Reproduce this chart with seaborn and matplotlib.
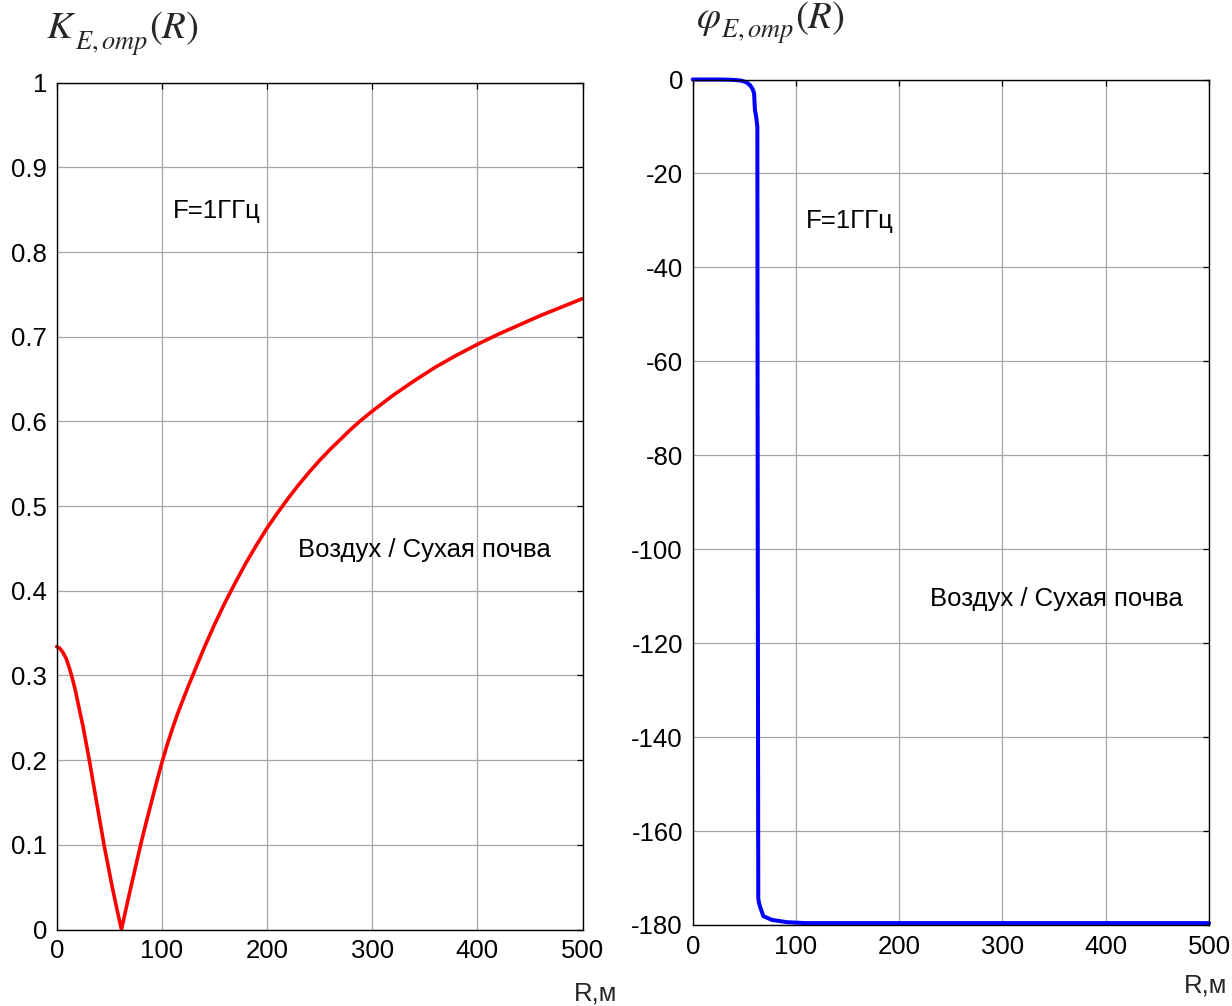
import matplotlib
matplotlib.use("Agg")
import matplotlib.pyplot as plt
import seaborn as sns
import pandas as pd

# ---- data ----
r_k = [0, 3, 6, 9, 12, 15, 18, 21, 25, 31, 38, 45, 53, 58, 61.6, 66, 70, 75, 80, 85,
       90, 95, 100, 105, 110, 115, 120, 125, 130, 140, 150, 160, 170, 180, 190, 200,
       210, 220, 230, 240, 250, 260, 270, 280, 290, 300, 320, 340, 360, 380, 400,
       420, 440, 460, 480, 500]
k_vals = [0.334, 0.332, 0.327, 0.320, 0.309, 0.296, 0.281, 0.263, 0.240, 0.200,
          0.150, 0.100, 0.049, 0.020, 0.000, 0.025, 0.047, 0.074, 0.101, 0.126,
          0.150, 0.174, 0.197, 0.218, 0.237, 0.255, 0.271, 0.287, 0.302, 0.332,
          0.360, 0.386, 0.410, 0.433, 0.454, 0.474, 0.492, 0.509, 0.525, 0.540,
          0.554, 0.567, 0.579, 0.591, 0.602, 0.612, 0.631, 0.648, 0.664, 0.678,
          0.691, 0.703, 0.714, 0.725, 0.735, 0.745]

r_phi = [0, 25, 36, 42, 47.4, 52, 55.5, 58, 59.4, 60.3, 61.5, 62.6, 63.0, 63.5, 64.2,
         65.2, 68.4, 76.5, 91, 110, 200, 300, 400, 500]
phi_vals = [0, 0, -0.05, -0.12, -0.26, -0.6, -1.2, -2.0, -2.9, -6.5, -8.0, -10, -100,
            -174.3, -175.3, -176.1, -178.1, -178.9, -179.4, -179.6, -179.6, -179.6,
            -179.6, -179.6]

x_ticks = [0, 100, 200, 300, 400, 500]
k_ticks = [0, 0.1, 0.2, 0.3, 0.4, 0.5, 0.6, 0.7, 0.8, 0.9, 1]
k_ticklabels = ["0", "0.1", "0.2", "0.3", "0.4", "0.5", "0.6", "0.7", "0.8", "0.9", "1"]
phi_ticks = [0, -20, -40, -60, -80, -100, -120, -140, -160, -180]

label_freq = "F=1ГГц"
label_media = "Воздух / Сухая почва"
label_r = "R,м"
title_k_main = r"$K$"
title_phi_main = r"$\varphi$"
title_sub = r"$E,omp$"
title_arg = r"$(R)$"

# ---- style ----
sns.set_theme(style="white")
plt.rcParams["font.family"] = ["Liberation Sans", "DejaVu Sans"]
plt.rcParams["axes.unicode_minus"] = False
plt.rcParams["mathtext.fontset"] = "stix"

W, H = 1232, 1006
fig = plt.figure(figsize=(W / 100, H / 100), dpi=100)
fig.patch.set_facecolor("white")

def px_rect(x0, x1, ytop, ybot):
    return [x0 / W, 1 - ybot / H, (x1 - x0) / W, (ybot - ytop) / H]

ax1 = fig.add_axes(px_rect(56.7, 582.5, 82.7, 929.5))
ax2 = fig.add_axes(px_rect(692.7, 1209.0, 79.5, 925.0))

df_k = pd.DataFrame({"R": r_k, "K": k_vals})
df_phi = pd.DataFrame({"R": r_phi, "phi": phi_vals})

sns.lineplot(data=df_k, x="R", y="K", ax=ax1, color="#ff0000", linewidth=2.6,
             estimator=None, sort=False)
sns.lineplot(data=df_phi, x="R", y="phi", ax=ax2, color="#0000ff", linewidth=2.9,
             estimator=None, sort=False)

FS = 18.5
for ax in (ax1, ax2):
    ax.set_xlim(0, 500)
    ax.set_xticks(x_ticks)
    ax.set_xticklabels([str(t) for t in x_ticks])
    ax.set_xlabel("")
    ax.set_ylabel("")
    ax.set_axisbelow(True)
    ax.grid(True, color="#a6a6a6", linewidth=0.9, linestyle="-")
    ax.tick_params(direction="in", top=True, right=True, length=4, width=0.9,
                   color="black", labelsize=FS, pad=7, labelcolor="black")
    for sp in ax.spines.values():
        sp.set_visible(True)
        sp.set_color("black")
        sp.set_linewidth(1.0)
    ax.set_facecolor("white")

ax1.set_ylim(0, 1)
ax1.set_yticks(k_ticks)
ax1.set_yticklabels(k_ticklabels)
ax2.set_ylim(-180, 0)
ax2.set_yticks(phi_ticks)
ax2.set_yticklabels([str(t) for t in phi_ticks])

for ln in ax1.get_lines() + ax2.get_lines():
    ln.set_clip_on(False)
    ln.set_solid_joinstyle("round")

ax1.text(110.3, 0.840, label_freq, fontsize=FS, ha="left", va="baseline", color="black")
ax1.text(229.7, 0.4395, label_media, fontsize=FS, ha="left", va="baseline", color="black")
ax2.text(109.7, -31.6, label_freq, fontsize=FS, ha="left", va="baseline", color="black")
ax2.text(229.8, -112.1, label_media, fontsize=FS, ha="left", va="baseline", color="black")

fig.text(596 / W, 1 - 1000 / H, label_r, fontsize=FS, ha="center", va="baseline")
fig.text(1206 / W, 1 - 992 / H, label_r, fontsize=FS, ha="center", va="baseline")

# titles composed of pieces: main symbol, lowered subscript, argument
renderer = fig.canvas.get_renderer()

def title_piece(x_px, base_px, s, size):
    t = fig.text(x_px / W, 1 - base_px / H, s, fontsize=size, ha="left", va="baseline")
    bb = t.get_window_extent(renderer=renderer)
    return bb.x1

def compose_title(x_px, base_px, main, sub_off, gap=0):
    x = title_piece(x_px, base_px, main, 28)
    x = title_piece(x + gap, base_px + sub_off, title_sub, 19)
    title_piece(x + 1, base_px, title_arg, 28)

compose_title(46, 38, title_k_main, 11, gap=-1)
compose_title(696, 28, title_phi_main, 9, gap=0)

fig.savefig("out.png", dpi=100, facecolor="white")
